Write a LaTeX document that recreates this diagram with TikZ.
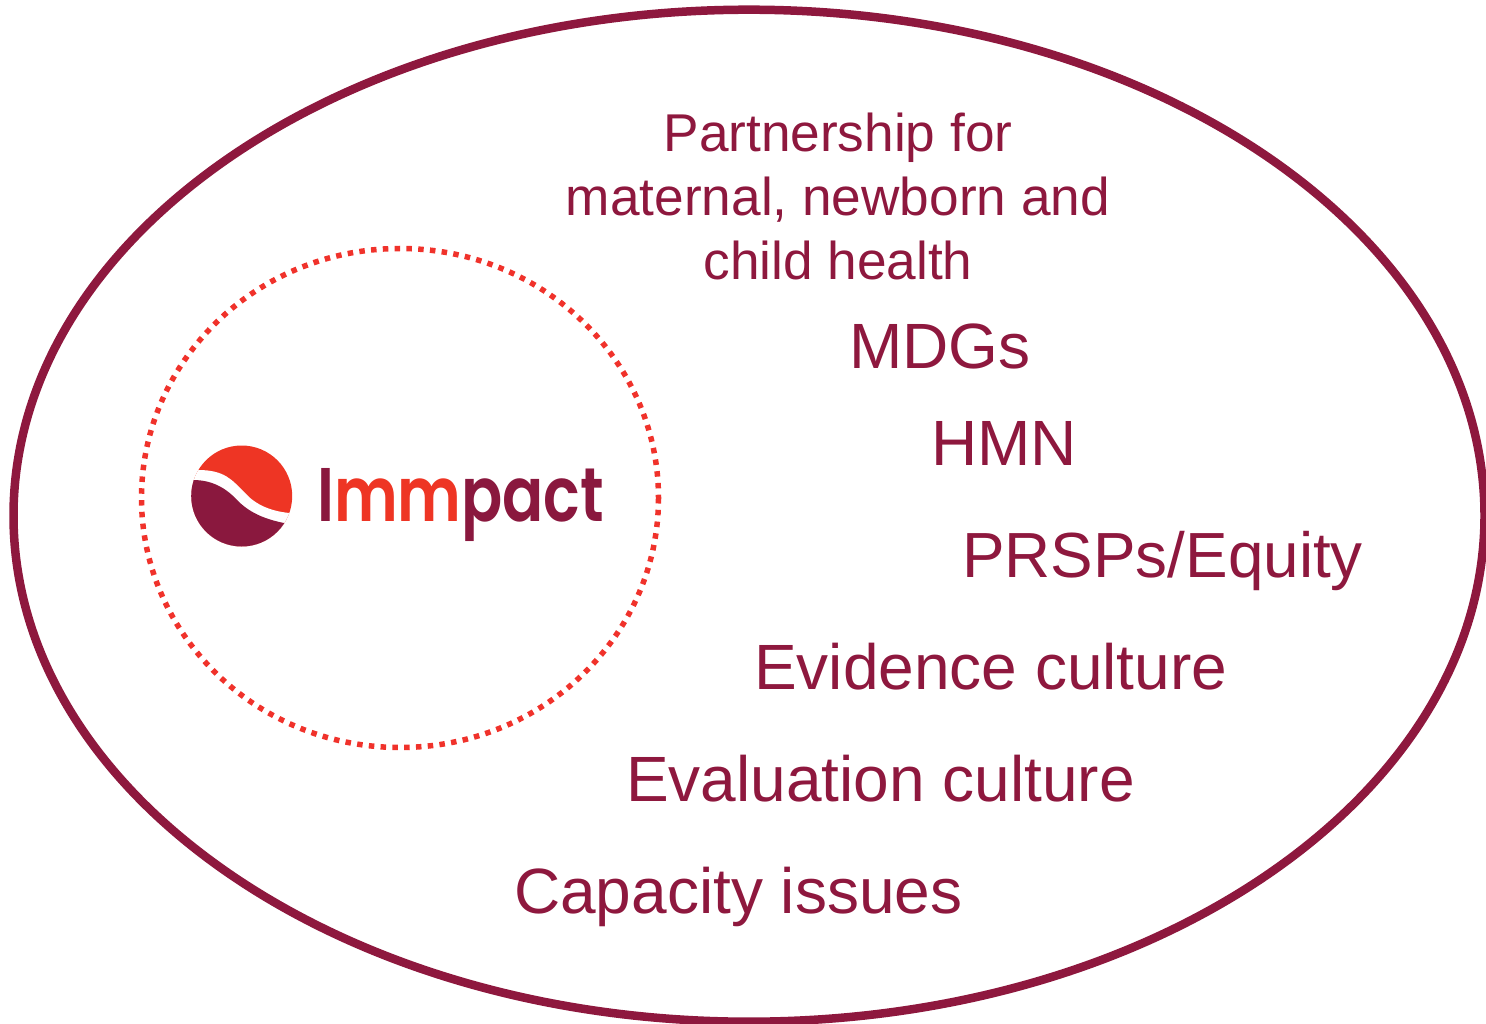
\documentclass[tikz,border=0pt]{standalone}
\usepackage{fontspec}
\setmainfont{Liberation Sans}
\newfontfamily\logofont{Poppins SemiBold}
\definecolor{wine}{HTML}{8E183E}
\definecolor{logored}{HTML}{EE3524}
\definecolor{logodark}{HTML}{8A183E}
\definecolor{dotred}{HTML}{F0322B}
\tikzset{
  lab/.style={anchor=base west,text=wine,inner sep=0pt,font=\fontsize{#1}{#1}\selectfont},
  mid/.style={anchor=base,text=wine,inner sep=0pt,font=\fontsize{53.2}{53.2}\selectfont}
}
\begin{document}
\begin{tikzpicture}[x=1pt,y=-1pt]
\useasboundingbox (0,0) rectangle (1486,1024);
\draw[wine,line width=8.5pt] (749,515.7) ellipse [x radius=735.5,y radius=506];
\draw[dotred,line width=5.5pt,dash pattern=on 5.5pt off 6.3pt] (400,498) ellipse [x radius=258.5,y radius=249.5];
\begin{scope}
  \clip (241.7,496) circle [radius=50.5];
  \fill[logored] (185,440) rectangle (300,560);
  \fill[white] (185,469.5) -- (198,470) .. controls (225,470) and (232,480) .. (245,493)
     .. controls (255,504) and (270,512) .. (295,513.5) -- (295,560) -- (185,560) -- cycle;
  \fill[logodark] (185,480) -- (193,480) .. controls (212,480) and (226,488) .. (237,500)
     .. controls (248,511) and (262,520) .. (295,525) -- (295,560) -- (185,560) -- cycle;
\end{scope}
\node[anchor=base west,inner sep=0pt,xscale=0.8,font=\logofont\fontsize{76}{76}\selectfont] (logo) at (317,521)
  {\textcolor{logodark}{I}\textcolor{logored}{mm}\textcolor{logodark}{pact}};
\node[mid] (t1) at (838,152) {Partnership for};
\node[mid] (t2) at (838,216) {maternal, newborn and};
\node[mid] (t3) at (838,280) {child health};
\node[lab=64] (mdg) at (849,368) {MDGs};
\node[lab=64] (hmn) at (931,465) {HMN};
\node[lab=63.8] (prs) at (962,577) {PRSPs/Equity};
\node[lab=64] (evi) at (754,689) {Evidence culture};
\node[lab=64] (eva) at (626,801) {Evaluation culture};
\node[lab=64] (cap) at (514,913) {Capacity issues};
\end{tikzpicture}
\end{document}
